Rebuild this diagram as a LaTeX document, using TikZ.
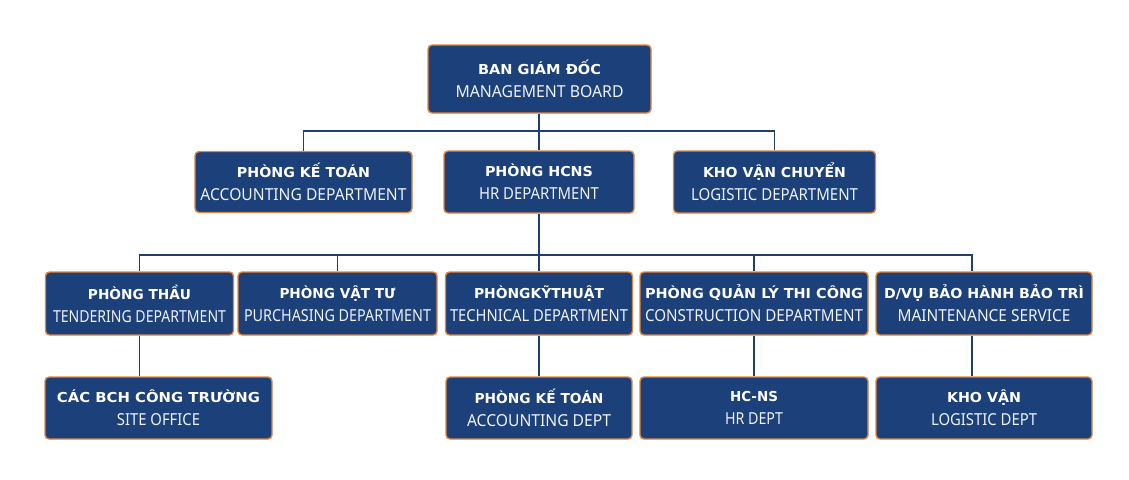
\documentclass[tikz,border=0pt]{standalone}
\usepackage{fontspec}
\usepackage{graphicx}
\setmainfont{Noto Sans}
\newfontfamily\headfont{DejaVu Sans Bold}
\definecolor{boxblue}{HTML}{1C4079}
\definecolor{rimorange}{HTML}{E5853C}
\definecolor{linkblue}{HTML}{1E3E74}
\definecolor{subwhite}{HTML}{EEF2F8}
\tikzset{
  unit/.style={draw=rimorange, line width=1.4pt, fill=boxblue, rounded corners=4pt,
    text=white, align=center, inner sep=0pt, font=\fontsize{16.5}{23}\selectfont},
  link/.style={draw=linkblue, line width=1.1pt},
}
% each text line is set to a given width, height kept
\newcommand{\headline}[2]{{\headfont\fontsize{13.7}{23}\selectfont\resizebox{#1pt}{\height}{#2}}}
\newcommand{\subline}[2]{{\color{subwhite}\resizebox{#1pt}{\height}{#2}}}
\begin{document}
\begin{tikzpicture}[x=1pt, y=-1pt]
\useasboundingbox (0,0) rectangle (1129,479);
\fill[white] (0,0) rectangle (1129,479);

% board
\node[unit, minimum width=223pt, minimum height=68pt] (board) at (539.5,79) {\headline{123}{BAN GIÁM ĐỐC}\\\subline{168}{MANAGEMENT BOARD}};

% second tier
\node[unit, minimum width=217pt, minimum height=61pt] (acc) at (303.5,182) {\headline{133}{PHÒNG KẾ TOÁN}\\\subline{206}{ACCOUNTING DEPARTMENT}};
\node[unit, minimum width=190pt, minimum height=62pt] (hr) at (539,182) {\headline{108}{PHÒNG HCNS}\\\subline{120}{HR DEPARTMENT}};
\node[unit, minimum width=202pt, minimum height=62pt] (logi) at (774.5,182) {\headline{143}{KHO VẬN CHUYỂN}\\\subline{167}{LOGISTIC DEPARTMENT}};

% third tier
\node[unit, minimum width=188pt, minimum height=63pt] (tend) at (139.5,303.5) {\headline{103}{PHÒNG THẦU}\\\subline{173}{TENDERING DEPARTMENT}};
\node[unit, minimum width=199pt, minimum height=63pt] (purch) at (337.5,303.5) {\headline{116}{PHÒNG VẬT TƯ}\\\subline{187}{PURCHASING DEPARTMENT}};
\node[unit, minimum width=187pt, minimum height=63pt] (tech) at (539,303.5) {\headline{130}{PHÒNGKỸTHUẬT}\\\subline{178}{TECHNICAL DEPARTMENT}};
\node[unit, minimum width=228pt, minimum height=63pt] (cons) at (754,303.5) {\headline{218}{PHÒNG QUẢN LÝ THI CÔNG}\\\subline{218}{CONSTRUCTION DEPARTMENT}};
\node[unit, minimum width=216pt, minimum height=63pt] (maint) at (984,303.5) {\headline{200}{D/VỤ BẢO HÀNH BẢO TRÌ}\\\subline{173}{MAINTENANCE SERVICE}};

% fourth tier
\node[unit, minimum width=227pt, minimum height=62pt] (site) at (158.5,408) {\headline{203}{CÁC BCH CÔNG TRƯỜNG}\\\subline{83}{SITE OFFICE}};
\node[unit, minimum width=186pt, minimum height=62pt] (acc2) at (539,408) {\headline{129}{PHÒNG KẾ TOÁN}\\\subline{144}{ACCOUNTING DEPT}};
\node[unit, minimum width=228pt, minimum height=62pt] (hr2) at (754,408) {\headline{48}{HC-NS}\\\subline{58}{HR DEPT}};
\node[unit, minimum width=216pt, minimum height=62pt] (logi2) at (984,408) {\headline{74}{KHO VẬN}\\\subline{106}{LOGISTIC DEPT}};

% bus lines
\coordinate (busA) at (539,131);
\coordinate (busB) at (539,255);
\coordinate (mdrop) at (972,255);

\draw[link] (board.south -| busA) -- (busA);
\draw[link] (acc.north) |- (busA) -| (logi.north);
\draw[link] (busA) -- (hr.north);
\draw[link] (hr.south) -- (busB);
\draw[link] (tend.north) |- (busB);
\draw[link] (purch.north) |- (busB);
\draw[link] (busB) -- (tech.north);
\draw[link] (cons.north) |- (busB);
\draw[link] (maint.north -| mdrop) -- (mdrop) -- (busB);
\draw[link] (tend.south) -- (tend.south |- site.north);
\draw[link] (tech.south) -- (acc2.north);
\draw[link] (cons.south) -- (hr2.north);
\draw[link] (maint.south -| mdrop) -- (mdrop |- logi2.north);
\end{tikzpicture}
\end{document}
